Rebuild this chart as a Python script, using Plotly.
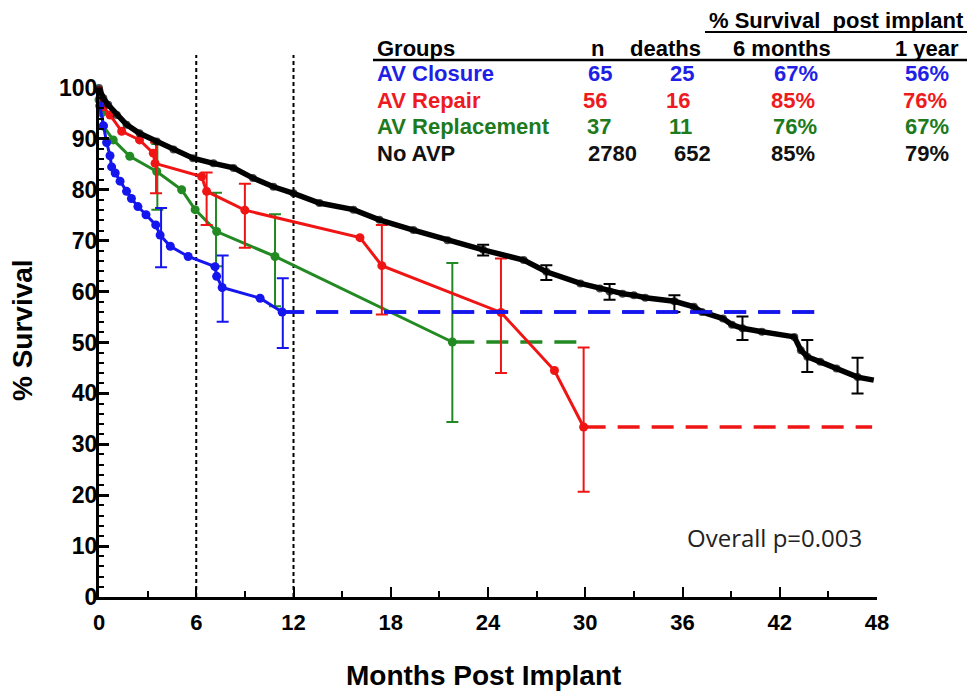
import plotly.graph_objects as go

# ---------------- data ----------------
# AV Closure (blue)
closure_months = [0.05, 0.27, 0.47, 0.68, 0.78, 1.0, 1.3, 1.7, 2.0, 2.4, 2.9, 3.5, 3.77, 4.4, 5.5, 7.16, 7.26, 7.6, 9.94, 11.3]
closure_surv = [96.5, 92.6, 89.3, 86.7, 84.5, 83.3, 81.7, 79.7, 78.3, 76.7, 75.1, 73.1, 71.1, 68.9, 66.9, 64.9, 63.0, 60.8, 58.7, 56.0]
closure_err_months = [3.83, 7.63, 11.34]
closure_err_surv = [71.1, 60.8, 56.0]
closure_err_hi = [76.4, 67.1, 62.6]
closure_err_lo = [64.8, 54.1, 48.9]
closure_tail_months = [11.3, 44.6]
closure_tail_surv = [56.0, 56.0]

# AV Repair (red)
repair_months = [0.0, 0.27, 0.68, 1.4, 2.5, 3.35, 3.46, 6.33, 6.64, 9.0, 16.1, 17.45, 24.8, 28.1, 29.9]
repair_surv = [99.5, 96.3, 94.7, 91.5, 89.8, 87.2, 85.2, 82.6, 79.7, 76.0, 70.6, 65.1, 55.9, 44.5, 33.4]
repair_err_months = [3.52, 6.64, 9.0, 17.45, 24.8, 29.9]
repair_err_surv = [85.2, 79.7, 76.0, 65.1, 55.9, 33.4]
repair_err_hi = [89.3, 83.4, 81.2, 73.1, 66.5, 49.0]
repair_err_lo = [79.3, 73.1, 68.6, 55.5, 44.0, 20.7]
repair_tail_months = [29.9, 47.7]
repair_tail_surv = [33.4, 33.4]

# AV Replacement (green)
replace_months = [0.0, 0.17, 0.27, 0.88, 1.9, 3.56, 5.1, 5.93, 7.26, 10.86, 21.8]
replace_surv = [97.7, 95.1, 92.5, 89.8, 86.6, 83.6, 80.0, 76.1, 71.8, 66.9, 50.1]
replace_err_months = [3.6, 7.22, 10.86, 21.8]
replace_err_surv = [83.6, 71.8, 66.9, 50.1]
replace_err_hi = [89.0, 79.4, 75.2, 65.6]
replace_err_lo = [76.1, 65.0, 57.1, 34.4]
replace_tail_months = [21.8, 29.7]
replace_tail_surv = [50.1, 50.1]

# No AVP (black)
noavp_months = [0.0, 0.27, 0.57, 1.1, 1.7, 2.5, 3.56, 4.6, 5.8, 7.06, 8.3, 9.5, 10.76, 12.0, 13.6, 15.7,
                17.3, 19.4, 21.5, 23.7, 26.2, 27.6, 29.7, 30.9, 31.5, 32.3, 33.0, 33.7, 35.5, 36.7, 37.2,
                38.5, 39.05, 39.7, 40.9, 42.9, 43.3, 43.7, 44.5, 45.5, 46.8, 47.8]
noavp_surv = [100.0, 98.0, 96.7, 94.7, 92.8, 91.1, 89.5, 87.9, 86.2, 85.2, 84.3, 82.3, 80.6, 79.3, 77.4, 76.1,
              74.1, 72.1, 70.1, 68.2, 66.2, 63.9, 61.6, 60.6, 60.0, 59.6, 59.3, 58.8, 58.1, 57.0, 56.0,
              54.7, 53.5, 52.8, 52.1, 51.1, 48.5, 47.2, 46.2, 44.9, 43.2, 42.6]
noavp_err_months = [23.7, 27.6, 31.5, 35.5, 39.7, 43.7, 46.8]
noavp_err_surv = [68.2, 63.9, 60.0, 58.1, 52.8, 47.2, 43.2]
noavp_err_hi = [69.2, 65.2, 61.5, 59.3, 55.1, 50.5, 47.0]
noavp_err_lo = [67.1, 62.3, 58.4, 56.0, 50.5, 44.2, 40.0]

# table
groups = ["AV Closure", "AV Repair", "AV Replacement", "No AVP"]
n_vals = ["65", "56", "37", "2780"]
deaths_vals = ["25", "16", "11", "652"]
six_month_vals = ["67%", "85%", "76%", "85%"]
one_year_vals = ["56%", "76%", "67%", "79%"]
header_cols = ["n", "deaths", "6 months", "1 year"]

x_ticks = [0, 6, 12, 18, 24, 30, 36, 42, 48]
y_ticks = [0, 10, 20, 30, 40, 50, 60, 70, 80, 90, 100]
ref_lines = [6, 12]
p_text = "Overall p=0.003"

# ---------------- styling ----------------
BLUE = "#1515ee"
RED = "#f01515"
GREEN = "#238a23"
BLACK = "#000000"
TXT_BLUE = "#1f1fe6"
TXT_RED = "#ee1a22"
TXT_GREEN = "#1d7a1d"
FONT = "Liberation Sans, Arial, sans-serif"

# plot area in reference pixels; the page adds an 8px body margin
PAGE_OFF = 8
L, T, W, H = 99, 88, 778, 509
FIG_W, FIG_H = 976 - 2 * PAGE_OFF, 700 - 2 * PAGE_OFF
ML, MT = L - PAGE_OFF, T - PAGE_OFF

def px(x):
    return (x - L) / W
def py(y):
    return (T + H - y) / H

fig = go.Figure()

def add_group(months, surv, em, es, ehi, elo, tm, ts, color, lw=3, ms=9, tail=True):
    fig.add_trace(go.Scatter(
        x=em, y=es, mode="markers", marker=dict(size=1, color=color, opacity=0),
        error_y=dict(type="data", symmetric=False,
                     array=[h - s for h, s in zip(ehi, es)],
                     arrayminus=[s - l for s, l in zip(es, elo)],
                     color=color, thickness=2, width=6),
        cliponaxis=False, hoverinfo="skip"))
    fig.add_trace(go.Scatter(
        x=months, y=surv, mode="lines+markers",
        line=dict(color=color, width=lw),
        marker=dict(color=color, size=ms, line=dict(width=0)),
        cliponaxis=False))
    if tail:
        fig.add_trace(go.Scatter(
            x=tm, y=ts, mode="lines",
            line=dict(color=color, width=3.5, dash="22px,12px")))

add_group(replace_months, replace_surv, replace_err_months, replace_err_surv,
          replace_err_hi, replace_err_lo, replace_tail_months, replace_tail_surv, GREEN)
add_group(repair_months, repair_surv, repair_err_months, repair_err_surv,
          repair_err_hi, repair_err_lo, repair_tail_months, repair_tail_surv, RED)
add_group(closure_months, closure_surv, closure_err_months, closure_err_surv,
          closure_err_hi, closure_err_lo, closure_tail_months, closure_tail_surv, BLUE)

# black group
black_sizes = [8] * (len(noavp_months) - 1) + [0]
fig.add_trace(go.Scatter(
    x=noavp_err_months, y=noavp_err_surv, mode="markers", marker=dict(size=1, opacity=0),
    error_y=dict(type="data", symmetric=False,
                 array=[h - s for h, s in zip(noavp_err_hi, noavp_err_surv)],
                 arrayminus=[s - l for s, l in zip(noavp_err_surv, noavp_err_lo)],
                 color=BLACK, thickness=2, width=6),
    hoverinfo="skip"))
fig.add_trace(go.Scatter(
    x=noavp_months, y=noavp_surv, mode="lines+markers",
    line=dict(color=BLACK, width=5.5),
    marker=dict(color=BLACK, size=black_sizes, line=dict(width=0)),
    cliponaxis=False))

# blue dashed tail on top
fig.add_trace(go.Scatter(
    x=closure_tail_months, y=closure_tail_surv, mode="lines",
    line=dict(color=BLUE, width=3.5, dash="22px,12px")))

shapes = []
for m in ref_lines:
    shapes.append(dict(type="line", xref="x", yref="paper", x0=m, x1=m, y0=0, y1=py(55),
                       line=dict(color="black", width=2, dash="4px,3px"), layer="below"))
# table underlines
shapes.append(dict(type="line", xref="paper", yref="paper", x0=px(705), x1=px(967), y0=py(32), y1=py(32),
                   line=dict(color="black", width=2)))
shapes.append(dict(type="line", xref="paper", yref="paper", x0=px(373), x1=px(967), y0=py(60), y1=py(60),
                   line=dict(color="black", width=2.5)))

annotations = []
def ann(text, x, y, color="black", size=22, anchor="center", bold=True, family=FONT, angle=0):
    annotations.append(dict(text=text, x=px(x), y=py(y), xref="paper", yref="paper",
                            showarrow=False, xanchor=anchor, yanchor="middle", textangle=angle,
                            font=dict(family=family, size=size, color=color,
                                      weight="bold" if bold else "normal")))

ann("% Survival\u00a0\u00a0post\u00a0implant", 836, 20)
ann("Groups", 375, 48, anchor="left")
header_x = [597, 665, 782, 927]
for h, hx in zip(header_cols, header_x):
    ann(h, hx, 48)

row_y = [74, 100, 127, 153]
txt_colors = [TXT_BLUE, TXT_RED, TXT_GREEN, "#111111"]
n_x = [600, 595, 599, 612]
d_x = [682, 678, 680, 692]
s_x = [796, 793, 795, 793]
o_x = [927, 925, 927, 927]
for i in range(4):
    c = txt_colors[i]
    ann(groups[i], 375, row_y[i], color=c, anchor="left")
    ann(n_vals[i], n_x[i], row_y[i], color=c)
    ann(deaths_vals[i], d_x[i], row_y[i], color=c)
    ann(six_month_vals[i], s_x[i], row_y[i], color=c)
    ann(one_year_vals[i], o_x[i], row_y[i], color=c)

ann(p_text, 774, 537, color="#222222", size=24, bold=False, family="Open Sans, sans-serif")
ann("% Survival", 22, 330, size=28, angle=-90)
ann("Months Post Implant", 483, 675, size=28)

fig.update_layout(
    width=FIG_W, height=FIG_H,
    margin=dict(l=ML, r=FIG_W - ML - W, t=MT, b=FIG_H - MT - H, autoexpand=False),
    plot_bgcolor="white", paper_bgcolor="white", showlegend=False,
    font=dict(family=FONT, color="black"),
    shapes=shapes, annotations=annotations,
)
fig.update_xaxes(
    range=[0, 48], tickmode="array", tickvals=x_ticks, ticks="inside", ticklen=10, tickwidth=2,
    tickcolor="black", showline=True, linewidth=3, linecolor="black", showgrid=False,
    zeroline=False, ticklabelstandoff=4,
    tickfont=dict(family=FONT, size=22, color="black", weight="bold"),
    minor=dict(tickmode="array", tickvals=[3, 9, 15, 21, 27, 33, 39, 45], ticks="inside",
               ticklen=6, tickwidth=2, tickcolor="black"))
fig.update_yaxes(
    range=[0, 100], tickmode="array", tickvals=y_ticks, ticks="inside", ticklen=10, tickwidth=2.5,
    tickcolor="black", showline=True, linewidth=3, linecolor="black", showgrid=False,
    zeroline=False, ticklabelstandoff=-6,
    tickfont=dict(family=FONT, size=23, color="black", weight="bold"),
    minor=dict(dtick=2, tick0=0, ticks="inside", ticklen=5, tickwidth=1.5, tickcolor="black"))

fig.write_html("out.html")
